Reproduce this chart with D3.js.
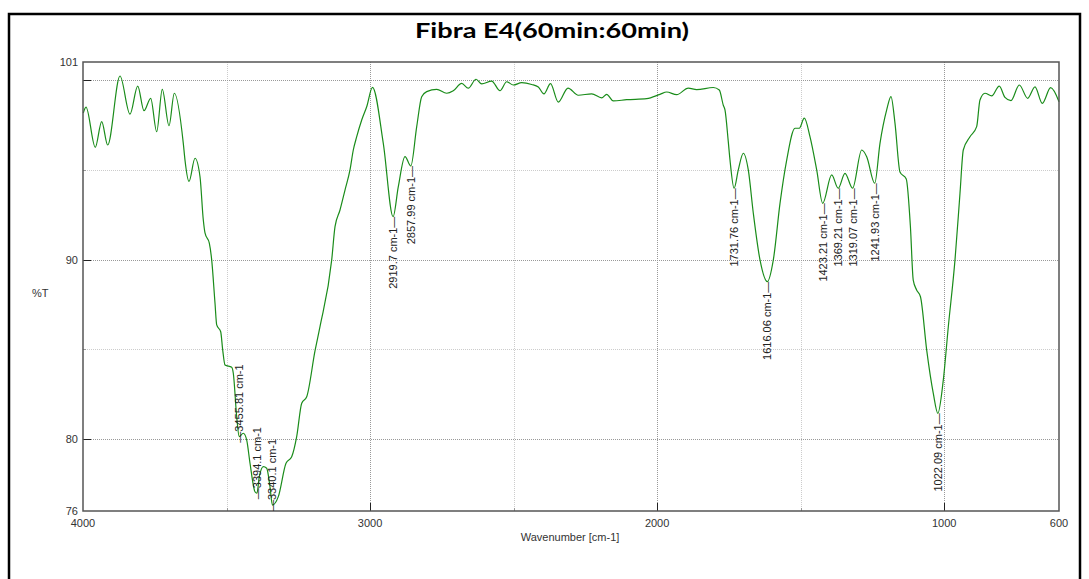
<!DOCTYPE html>
<html>
<head>
<meta charset="utf-8">
<script src="https://cdn.jsdelivr.net/npm/d3@7"></script>
<style>
  body { margin: 0; background: #fff; }
  svg { display: block; }
</style>
</head>
<body>
<script>
// FT-IR spectrum
const wavenumber = [3999, 3989.5, 3957.2, 3934.9, 3914, 3871.1, 3836.3, 3809.4, 3787.5, 3764.2,
  3743.3, 3723.8, 3700.4, 3681.9, 3650.6, 3644.7, 3630.7, 3609.8, 3592.4, 3580.9,
  3575, 3560, 3551.7, 3540.2, 3534.2, 3520.3, 3513.3, 3505.3, 3482, 3476.4,
  3464.6, 3455.8, 3441.6, 3429.7, 3418.2, 3400.8, 3394.1, 3385.8, 3371.9, 3360.1,
  3348.6, 3340.1, 3319.6, 3292.8, 3273, 3255.6, 3238.1, 3220.7, 3191.8, 3174.4,
  3133.6, 3122.1, 3104.7, 3087.3, 3069.9, 3058.4, 3046.5, 3029.1, 3011.7, 2991.5,
  2953.9, 2919.7, 2901.6, 2878.3, 2858, 2837.5, 2820.1, 2802.7, 2767.8, 2733,
  2710, 2680.8, 2657.8, 2630.9, 2611.1, 2576.3, 2547.3, 2524, 2501, 2471.8,
  2436.9, 2413.9, 2394.1, 2371.4, 2344.3, 2310.5, 2274.6, 2227.9, 2193.1, 2175.7,
  2152.7, 2106, 2036.3, 1990, 1966.6, 1931.8, 1891.3, 1862.2, 1804.3, 1783.4,
  1769.4, 1763.6, 1752, 1746.1, 1731.8, 1717.2, 1699.8, 1682.4, 1664.9, 1641.6,
  1616.1, 1595.2, 1571.9, 1548.6, 1519.7, 1504.7, 1487.3, 1467.5, 1444.1, 1423.2,
  1391.9, 1369.2, 1345.5, 1319.1, 1287.3, 1269.9, 1241.9, 1223.6, 1200.3, 1185.3,
  1171.4, 1154, 1132.1, 1117.6, 1107.8, 1096, 1082.6, 1060.9, 1037.9, 1022.1,
  1003.1, 985.6, 962.3, 944.9, 933.4, 910.1, 886.8, 875.3, 857.9, 834.6,
  808.1, 788.2, 767.3, 738.3, 709.1, 683.6, 658.2, 629, 600];

const transmittance = [98.16, 98.49, 96.25, 97.68, 96.38, 100.22, 98.1, 99.66, 98.29, 98.98,
  97.12, 99.48, 97.45, 99.26, 96.47, 95.54, 94.35, 95.64, 94.61, 92.2,
  91.48, 90.91, 89.98, 87.58, 86.36, 85.98, 84.96, 84.13, 84, 83.67,
  81.25, 80.14, 80.33, 79.95, 78.66, 77.07, 76.99, 77.91, 78.47, 78.38,
  77.35, 76.33, 76.8, 78.66, 79.02, 80.14, 82, 82.36, 84.91, 86.26,
  89.98, 91.83, 92.76, 93.87, 94.99, 96.1, 96.84, 97.77, 98.51, 99.59,
  96.47, 92.39, 94.06, 95.73, 95.21, 97.4, 99.07, 99.35, 99.48, 99.26,
  99.4, 99.81, 99.54, 100.04, 99.78, 99.94, 99.4, 99.9, 99.72, 99.85,
  99.75, 99.61, 99.23, 99.8, 98.77, 99.55, 99.15, 99.23, 99, 99.2,
  98.83, 98.9, 98.96, 99.2, 99.33, 99.18, 99.55, 99.46, 99.58, 99.44,
  98.59, 98.33, 96.55, 95.54, 93.97, 94.99, 95.92, 94.99, 92.58, 89.98,
  88.77, 89.98, 93.13, 95.54, 97.31, 97.31, 97.87, 96.84, 94.99, 93.13,
  94.71, 93.97, 94.8, 93.97, 96.1, 95.73, 94.25, 96.47, 98.33, 99.07,
  97.6, 94.88, 94.49, 91.83, 88.86, 88.31, 87.93, 84.96, 82.55, 81.44,
  83.29, 86.26, 89.98, 93.69, 96.1, 96.84, 97.4, 98.88, 99.26, 99.11,
  99.66, 99.03, 98.85, 99.72, 98.98, 99.62, 98.7, 99.57, 98.79];

// marked peaks
const peakWn = [3455.81, 3394.1, 3340.1, 2919.7, 2857.99, 1731.76, 1616.06, 1423.21, 1369.21, 1319.07, 1241.93, 1022.09];
const peakT = [80.14, 76.99, 76.33, 92.39, 95.21, 93.97, 88.77, 93.13, 93.97, 93.97, 94.25, 81.44];
const peakAbove = [true, true, true, false, false, false, false, false, false, false, false, false];

const xGrid = [3500, 3000, 2500, 2000, 1500, 1000];
const xMajor = [3000, 2000, 1000];
const xLabels = [4000, 3000, 2000, 1000, 600];
const yGrid = [100, 95, 90, 85, 80];
const yMajor = [100, 90, 80];
const yLabels = [101, 90, 80, 76];

const width = 1089, height = 579;
const pLeft = 83, pRight = 1059, pTop = 62, pBottom = 511;

const svg = d3.select('body').append('svg')
  .attr('width', width)
  .attr('height', height);

svg.append('rect')
  .attr('x', 0).attr('y', 0)
  .attr('width', width).attr('height', height)
  .style('fill', '#fff');

// outer frame
svg.append('rect')
  .attr('x', 9).attr('y', 14)
  .attr('width', 1071).attr('height', 620)
  .style('fill', 'none')
  .style('stroke', '#000')
  .style('stroke-width', 2.5);

svg.append('text')
  .attr('x', 552).attr('y', 38)
  .attr('text-anchor', 'middle')
  .attr('textLength', 274)
  .attr('lengthAdjust', 'spacingAndGlyphs')
  .style('font-family', 'Lato, "Open Sans", sans-serif')
  .style('font-weight', 'bold')
  .style('font-size', '20px')
  .text('Fibra E4(60min:60min)');

const x = d3.scaleLinear().domain([4000, 600]).range([pLeft, pRight]);
const y = d3.scaleLinear().domain([76, 101]).range([pBottom, pTop]);

// grid
const grid = svg.append('g');
grid.selectAll('.gx').data(xGrid).enter().append('line')
  .attr('x1', d => Math.round(x(d)) + 0.5).attr('x2', d => Math.round(x(d)) + 0.5)
  .attr('y1', pTop).attr('y2', pBottom)
  .style('stroke', d => xMajor.includes(d) ? '#999' : '#ccc')
  .style('stroke-dasharray', '1,1');
grid.selectAll('.gy').data(yGrid).enter().append('line')
  .attr('y1', d => Math.round(y(d)) + 0.5).attr('y2', d => Math.round(y(d)) + 0.5)
  .attr('x1', pLeft).attr('x2', pRight)
  .style('stroke', d => yMajor.includes(d) ? '#999' : '#ccc')
  .style('stroke-dasharray', '1,1');

// inner tick marks
svg.append('g').selectAll('line').data(xGrid).enter().append('line')
  .attr('x1', d => Math.round(x(d)) + 0.5).attr('x2', d => Math.round(x(d)) + 0.5)
  .attr('y1', pBottom).attr('y2', d => pBottom - (xMajor.includes(d) ? 8 : 3))
  .style('stroke', d => xMajor.includes(d) ? '#222' : '#999');
svg.append('g').selectAll('line').data(yGrid).enter().append('line')
  .attr('y1', d => Math.round(y(d)) + 0.5).attr('y2', d => Math.round(y(d)) + 0.5)
  .attr('x1', pLeft).attr('x2', d => pLeft + (yMajor.includes(d) ? 8 : 3))
  .style('stroke', d => yMajor.includes(d) ? '#222' : '#999');

// spectrum
const line = d3.line()
  .x((d, i) => x(wavenumber[i]))
  .y((d, i) => y(transmittance[i]))
  .curve(d3.curveMonotoneX);

svg.append('path')
  .datum(transmittance)
  .attr('d', line)
  .style('fill', 'none')
  .style('stroke', '#1a8c1a')
  .style('stroke-width', 1.2);

// plot frame
svg.append('rect')
  .attr('x', pLeft).attr('y', pTop)
  .attr('width', pRight - pLeft).attr('height', pBottom - pTop)
  .style('fill', 'none')
  .style('stroke', '#555')
  .style('stroke-width', 1.5);

// axes labels
const labFont = '"Liberation Sans", Arial, sans-serif';

svg.append('g').selectAll('text').data(yLabels).enter().append('text')
  .attr('x', pLeft - 5)
  .attr('y', d => y(d) + 4)
  .attr('text-anchor', 'end')
  .style('font-family', labFont).style('font-size', '11px').style('fill', '#333')
  .text(d => d);

svg.append('g').selectAll('text').data(xLabels).enter().append('text')
  .attr('x', d => x(d))
  .attr('y', pBottom + 16)
  .attr('text-anchor', 'middle')
  .style('font-family', labFont).style('font-size', '11px').style('fill', '#333')
  .text(d => d);

svg.append('text')
  .attr('x', 570).attr('y', 541)
  .attr('text-anchor', 'middle')
  .style('font-family', labFont).style('font-size', '11px').style('fill', '#333')
  .text('Wavenumber [cm-1]');

svg.append('text')
  .attr('x', 32).attr('y', 297)
  .style('font-family', labFont).style('font-size', '11px').style('fill', '#333')
  .text('%T');

// peak labels
svg.append('g').selectAll('text').data(peakWn).enter().append('text')
  .attr('transform', (d, i) => `translate(${x(d) + 4},${y(peakT[i]) + (peakAbove[i] ? 6 : 0)}) rotate(-90)`)
  .attr('text-anchor', (d, i) => peakAbove[i] ? 'start' : 'end')
  .style('font-family', labFont)
  .style('font-size', '11px')
  .style('fill', '#222')
  .text((d, i) => peakAbove[i] ? '\u2014' + d + ' cm-1' : d + ' cm-1\u2014');
</script>
</body>
</html>
